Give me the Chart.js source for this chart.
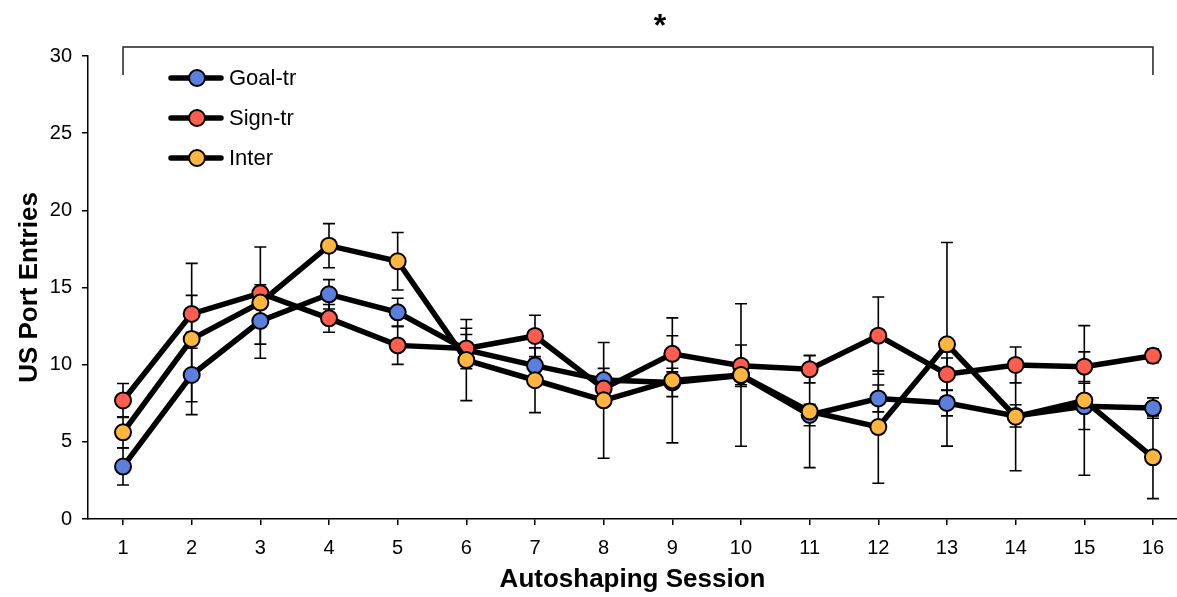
<!DOCTYPE html>
<html>
<head>
<meta charset="utf-8">
<script src="https://cdn.jsdelivr.net/npm/chart.js@4.4.1/dist/chart.umd.min.js"></script>
<style>
  html, body { margin: 0; padding: 0; background: #fff; }
  #wrap { width: 1177px; height: 597px; }
</style>
</head>
<body>
<div id="wrap"><canvas id="myLineChart"></canvas></div>
<script>
// sessions on the x axis
const sessions = [1, 2, 3, 4, 5, 6, 7, 8, 9, 10, 11, 12, 13, 14, 15, 16];

// means and error bar sizes
const goalTr    = [3.40, 9.33, 12.83, 14.56, 13.39, 10.95, 9.94, 9.00, 8.85, 9.30, 6.74, 7.81, 7.52, 6.68, 7.30, 7.19];
const goalTrErr = [1.20, 1.73, 1.50, 0.95, 0.91, 1.00, 0.40, 0.76, 0.92, 0.60, 0.70, 0.87, 0.84, 0.72, 1.50, 0.66];

const signTr    = [7.68, 13.29, 14.63, 13.00, 11.25, 11.05, 11.86, 8.45, 10.70, 9.93, 9.70, 11.88, 9.38, 9.98, 9.87, 10.58];
const signTrErr = [1.10, 1.20, 0.55, 0.90, 1.23, 1.31, 1.34, 0.50, 1.17, 1.34, 0.88, 2.50, 1.05, 1.16, 0.96, 0.45];

const inter     = [5.62, 11.66, 14.02, 17.71, 16.70, 10.30, 8.99, 7.69, 8.98, 9.33, 6.97, 5.96, 11.32, 6.63, 7.68, 4.00];
const interErr  = [1.00, 4.90, 3.60, 1.43, 1.86, 2.63, 2.10, 3.75, 4.05, 4.62, 3.64, 3.64, 6.60, 3.50, 4.85, 2.68];

const seriesNames  = ['Goal-tr', 'Sign-tr', 'Inter'];
const seriesColors = ['#5b7fdc', '#ff5e4f', '#ffb640'];
const yTicks = [0, 5, 10, 15, 20, 25, 30];

const FONT = "'Liberation Sans', Arial, sans-serif";

function toPoints(vals) {
  return sessions.map((s, i) => ({ x: s, y: vals[i] }));
}

function makeDataset(idx, vals, errs) {
  return {
    label: seriesNames[idx],
    data: toPoints(vals),
    errors: errs,
    borderColor: '#000',
    borderWidth: 5.5,
    pointRadius: 8,
    pointBorderWidth: 2,
    pointBorderColor: '#000',
    pointBackgroundColor: seriesColors[idx],
    tension: 0,
    order: 3 - idx
  };
}

// error bars, drawn under the lines
const errorBars = {
  id: 'errorBars',
  beforeDatasetsDraw(chart) {
    const ctx = chart.ctx;
    const xs = chart.scales.x, ys = chart.scales.y;
    ctx.save();
    ctx.strokeStyle = '#000';
    ctx.lineWidth = 1.6;
    chart.data.datasets.forEach(ds => {
      ds.data.forEach((p, i) => {
        const e = ds.errors[i];
        const px = xs.getPixelForValue(p.x);
        const top = ys.getPixelForValue(p.y + e);
        const bot = ys.getPixelForValue(p.y - e);
        ctx.beginPath();
        ctx.moveTo(px, top); ctx.lineTo(px, bot);
        ctx.moveTo(px - 6, top); ctx.lineTo(px + 6, top);
        ctx.moveTo(px - 6, bot); ctx.lineTo(px + 6, bot);
        ctx.stroke();
      });
    });
    ctx.restore();
  }
};

// legend inside the plot + significance bracket on top
const extras = {
  id: 'extras',
  afterDraw(chart) {
    const ctx = chart.ctx;
    const xs = chart.scales.x;
    const area = chart.chartArea;
    ctx.save();

    // bracket
    const x1 = xs.getPixelForValue(sessions[0]);
    const x2 = xs.getPixelForValue(sessions[sessions.length - 1]);
    const by = area.top - 9;
    ctx.strokeStyle = '#222';
    ctx.lineWidth = 1.5;
    ctx.beginPath();
    ctx.moveTo(x1, by + 28); ctx.lineTo(x1, by);
    ctx.lineTo(x2, by); ctx.lineTo(x2, by + 28);
    ctx.stroke();
    ctx.fillStyle = '#000';
    ctx.font = 'bold 32px ' + FONT;
    ctx.textAlign = 'center';
    ctx.textBaseline = 'middle';
    ctx.fillText('*', (x1 + x2) / 2 + 22, 27);

    // legend
    ctx.font = '22px ' + FONT;
    ctx.textAlign = 'left';
    seriesNames.forEach((name, i) => {
      const ly = area.top + 22 + i * 40;
      ctx.strokeStyle = '#000';
      ctx.lineWidth = 5.5;
      ctx.lineCap = 'round';
      ctx.beginPath();
      ctx.moveTo(171, ly); ctx.lineTo(221, ly);
      ctx.stroke();
      ctx.beginPath();
      ctx.arc(197, ly, 8, 0, Math.PI * 2);
      ctx.fillStyle = seriesColors[i];
      ctx.fill();
      ctx.lineWidth = 2;
      ctx.stroke();
      ctx.fillStyle = '#000';
      ctx.fillText(name, 229, ly + 1);
    });
    ctx.restore();
  }
};

const ctx = document.getElementById('myLineChart').getContext('2d');
const myLineChart = new Chart(ctx, {
  type: 'line',
  data: {
    datasets: [
      makeDataset(0, goalTr, goalTrErr),
      makeDataset(1, signTr, signTrErr),
      makeDataset(2, inter, interErr)
    ]
  },
  options: {
    responsive: true,
    maintainAspectRatio: false,
    animation: false,
    layout: { autoPadding: false, padding: { top: 56, right: 0, left: 0, bottom: 0 } },
    plugins: {
      legend: { display: false },
      tooltip: { enabled: false }
    },
    scales: {
      x: {
        type: 'linear',
        min: 0.49,
        max: 16.35,
        afterBuildTicks: scale => { scale.ticks = sessions.map(v => ({ value: v })); },
        afterFit: scale => { scale.height = 78; scale.paddingLeft = 0; scale.paddingRight = 0; },
        grid: { display: true, drawOnChartArea: false, drawTicks: true, tickLength: 6, color: '#000', lineWidth: 1.5 },
        border: { display: true, color: '#000', width: 1.5 },
        ticks: { color: '#000', padding: 11, font: { family: FONT, size: 20 } },
        title: {
          display: true,
          text: 'Autoshaping Session',
          color: '#000',
          font: { family: FONT, size: 26, weight: 'bold' },
          padding: { top: 0, bottom: 2 }
        }
      },
      y: {
        min: 0,
        max: 30,
        afterBuildTicks: scale => { scale.ticks = yTicks.map(v => ({ value: v })); },
        afterFit: scale => { scale.width = 88; scale.paddingTop = 0; scale.paddingBottom = 0; },
        grid: { display: true, drawOnChartArea: false, drawTicks: true, tickLength: 6, color: '#000', lineWidth: 1.5 },
        border: { display: true, color: '#000', width: 1.5 },
        ticks: { color: '#000', padding: 10, font: { family: FONT, size: 20 } },
        title: {
          display: true,
          text: 'US Port Entries',
          color: '#000',
          font: { family: FONT, size: 26, weight: 'bold' },
          padding: { top: 14, bottom: 0 }
        }
      }
    }
  },
  plugins: [errorBars, extras]
});
</script>
</body>
</html>
